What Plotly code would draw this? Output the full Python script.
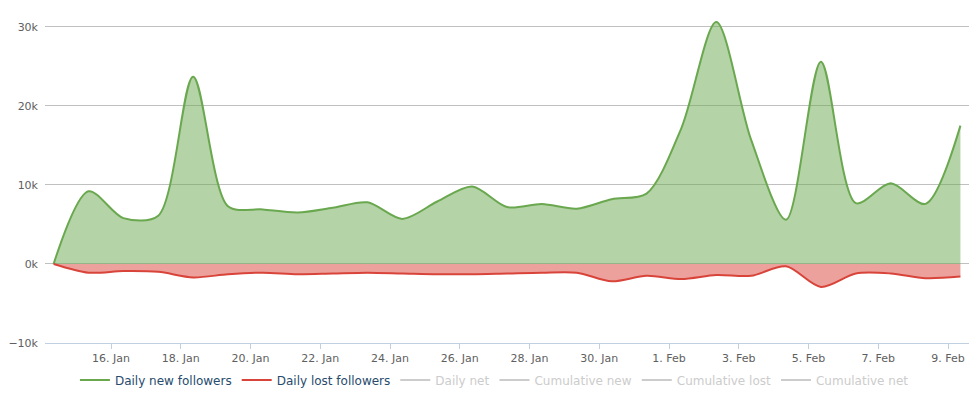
import plotly.graph_objects as go
import pandas as pd

# Data (one point per day, 14 Jan - 9 Feb)
dates = pd.date_range("2014-01-14 08:30", periods=27, freq="D")
new_followers = [0, 9200, 5800, 6100, 23700, 7300, 6900, 6500, 7100, 7800,
                 5700, 7900, 9800, 7200, 7600, 7000, 8200, 8900, 17200, 30600,
                 15700, 5600, 25600, 7700, 10200, 7600, 17500]
lost_followers = [0, -1100, -900, -1000, -1700, -1300, -1100, -1300, -1200, -1100,
                  -1200, -1300, -1300, -1200, -1100, -1100, -2200, -1500, -1900, -1400,
                  -1500, -300, -2900, -1200, -1200, -1800, -1600]

series_names = ["Daily new followers", "Daily lost followers", "Daily net",
                "Cumulative new", "Cumulative lost", "Cumulative net"]

x_tick_vals = pd.date_range("2014-01-16", "2014-02-09", freq="2D")
x_tick_text = ["16. Jan", "18. Jan", "20. Jan", "22. Jan", "24. Jan", "26. Jan",
               "28. Jan", "30. Jan", "1. Feb", "3. Feb", "5. Feb", "7. Feb", "9. Feb"]
y_tick_vals = [-10000, 0, 10000, 20000, 30000]
y_tick_text = ["\u221210k", "0k", "10k", "20k", "30k"]

GREEN = "rgb(106,168,79)"
GREEN_FILL = "rgba(106,168,79,0.5)"
RED = "rgb(217,68,58)"
RED_FILL = "rgba(217,68,58,0.5)"
GRAY = "#CCCCCC"

fig = go.Figure()
fig.add_trace(go.Scatter(x=dates, y=new_followers, mode="lines",
                         line=dict(color=GREEN, width=2, shape="spline", smoothing=0.85),
                         fill="tozeroy", fillcolor=GREEN_FILL, showlegend=False,
                         name=series_names[0]))
fig.add_trace(go.Scatter(x=dates, y=lost_followers, mode="lines",
                         line=dict(color=RED, width=2, shape="spline", smoothing=0.85),
                         fill="tozeroy", fillcolor=RED_FILL, showlegend=False,
                         name=series_names[1]))

legend_colors = [GREEN, RED, GRAY, GRAY, GRAY, GRAY]
for i, (nm, col) in enumerate(zip(series_names, legend_colors)):
    label = nm if i < 2 else f'<span style="color:{GRAY}">{nm}</span>'
    fig.add_trace(go.Scatter(x=[None], y=[None], mode="lines",
                             line=dict(color=col, width=2), name=label,
                             showlegend=True, hoverinfo="skip"))

fig.update_layout(
    width=969, height=390,
    margin=dict(l=37, r=7, t=7, b=55, autoexpand=False),
    paper_bgcolor="white", plot_bgcolor="white",
    font=dict(family="Lucida Grande, DejaVu Sans, Verdana, sans-serif", size=11, color="#606060"),
    showlegend=True,
    legend=dict(orientation="h", xref="container", x=0.502, xanchor="center",
                yref="container", y=0.046, yanchor="middle",
                font=dict(size=12, color="#274b6d"),
                itemwidth=30, tracegroupgap=0, traceorder="normal"),
    xaxis=dict(
        range=[pd.Timestamp("2014-01-14 02:35"), pd.Timestamp("2014-02-09 15:05")],
        tickvals=x_tick_vals, ticktext=x_tick_text,
        showgrid=False, zeroline=False, automargin=False,
        showline=True, linecolor="#C0D0E0", linewidth=1,
        ticks="outside", ticklen=5, tickcolor="#C0D0E0", tickwidth=1,
        tickfont=dict(size=11, color="#606060"),
    ),
    yaxis=dict(
        range=[-10000, 31500],
        tickvals=y_tick_vals, ticktext=y_tick_text,
        showgrid=True, gridcolor="#C0C0C0", gridwidth=1,
        zeroline=False, showline=False, ticks="", automargin=False,
        ticklabelstandoff=6,
        tickfont=dict(size=11, color="#606060"),
    ),
)

fig.write_html("out.html")
